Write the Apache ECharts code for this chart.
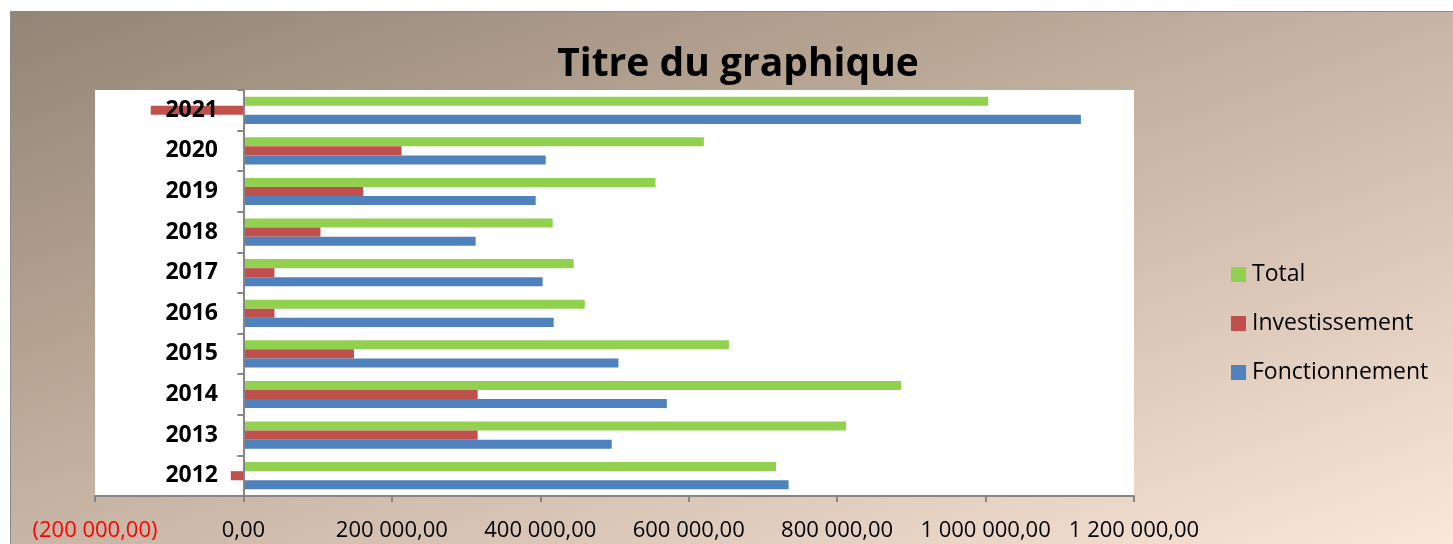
<!DOCTYPE html>
<html>
	<head>
		<meta charset="utf-8">
		<title>Titre du graphique</title>
		<style type="text/css">
			* {
				margin: 0;
				padding: 0;
			}

			html,
			body {
				width: 100%;
				height: 100%;
				background: #fff;
				overflow: hidden;
			}

			.fond {
				position: absolute;
				left: 10px;
				top: 11px;
				width: 1443px;
				height: 533px;
				border-left: 1px solid #8a8a8a;
				border-top: 1px solid #8a8a8a;
				box-sizing: border-box;
				background: linear-gradient(160deg, #928577 0%, #b3a190 30%, #d7c3b3 65%, #fbe7d7 100%);
			}

			#chart {
				position: absolute;
				left: 0;
				top: 0;
				width: 1453px;
				height: 544px;
			}
		</style>
	</head>
	<body>
		<div class="fond"></div>
		<div id="chart"></div>
		<script src="https://cdn.jsdelivr.net/npm/echarts@6/dist/echarts.min.js"></script>
		<script>
			var annees = ['2012', '2013', '2014', '2015', '2016', '2017', '2018', '2019', '2020', '2021']
			var fonctionnement = [734600, 496300, 570500, 505300, 418100, 403200, 312900, 393800, 407300, 1128400]
			var investissement = [-17000, 315600, 315600, 148900, 41800, 41800, 103800, 161400, 213100, -124900]
			var total = [717600, 811900, 886100, 654200, 459900, 445000, 416700, 555200, 620400, 1003500]
			var ticksX = [-200000, 1200000, 200000] // min, max, pas

			function formatFr(v) {
				var n = Math.abs(v)
				var s = String(Math.round(n)).replace(/\B(?=(\d{3})+(?!\d))/g, ' ') + ',00'
				if (v < 0) {
					return '{neg|(' + s + ')}'
				}
				return s
			}

			window.onload = function() {
				var myChart = echarts.init(document.getElementById('chart'));
				var option = {
					backgroundColor: 'transparent',
					title: {
						text: 'Titre du graphique',
						left: 733,
						textAlign: 'center',
						top: 40,
						textStyle: {
							fontFamily: 'Open Sans',
							fontWeight: 'bold',
							fontSize: 39,
							color: '#000'
						}
					},
					legend: {
						orient: 'vertical',
						left: 1231,
						top: 263,
						padding: 0,
						itemWidth: 15,
						itemHeight: 15,
						itemGap: 26,
						icon: 'rect',
						data: ['Total', 'Investissement', 'Fonctionnement'],
						textStyle: {
							fontFamily: 'Open Sans',
							fontSize: 23,
							color: '#000',
							padding: [0, 0, 0, 1]
						}
					},
					grid: {
						left: 95,
						right: 319,
						top: 90,
						bottom: 48,
						show: true,
						backgroundColor: '#fff',
						borderWidth: 0
					},
					xAxis: {
						type: 'value',
						min: ticksX[0],
						max: ticksX[1],
						interval: ticksX[2],
						splitLine: {
							show: false
						},
						axisLine: {
							show: true,
							onZero: false,
							lineStyle: {
								color: '#868686',
								width: 2
							}
						},
						axisTick: {
							show: true,
							length: 6,
							lineStyle: {
								color: '#868686',
								width: 2
							}
						},
						axisLabel: {
							margin: 24,
							fontFamily: 'Open Sans',
							fontSize: 22,
							color: '#000',
							formatter: formatFr,
							rich: {
								neg: {
									color: '#ff0000',
									fontFamily: 'Open Sans',
									fontSize: 22
								}
							}
						}
					},
					yAxis: {
						type: 'category',
						data: annees,
						z: 5,
						axisLine: {
							show: true,
							onZero: true,
							lineStyle: {
								color: '#868686',
								width: 2
							}
						},
						axisTick: {
							show: true,
							length: 6,
							lineStyle: {
								color: '#868686',
								width: 2
							}
						},
						axisLabel: {
							// les etiquettes restent au bord de la grille, on les ramene pres du zero
							margin: -123,
							fontFamily: 'Open Sans',
							fontWeight: 'bold',
							fontSize: 23,
							color: '#000'
						}
					},
					series: [{
						name: 'Total',
						type: 'bar',
						data: total,
						color: '#92d050',
						barGap: '0%',
						barCategoryGap: '33%'
					}, {
						name: 'Investissement',
						type: 'bar',
						data: investissement,
						color: '#c0504d',
						barGap: '0%',
						barCategoryGap: '33%'
					}, {
						name: 'Fonctionnement',
						type: 'bar',
						data: fonctionnement,
						color: '#4f81bd',
						barGap: '0%',
						barCategoryGap: '33%'
					}]
				};
				myChart.setOption(option);
			}
		</script>
	</body>
</html>
